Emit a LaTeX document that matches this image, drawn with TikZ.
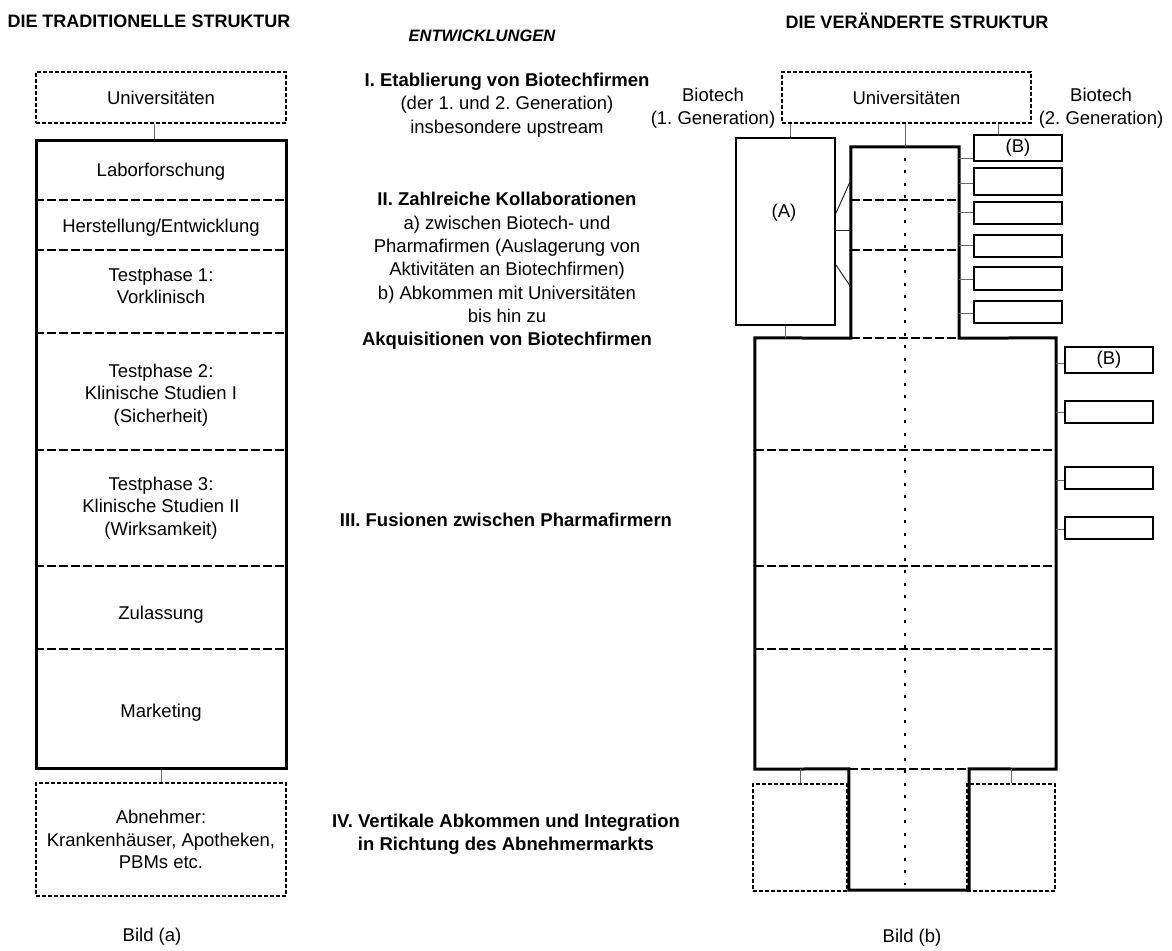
\documentclass[tikz,border=0pt]{standalone}
\usepackage{fontspec}
\setmainfont{Liberation Sans}
\frenchspacing
\begin{document}
\begin{tikzpicture}[x=1pt,y=-1pt,
	every node/.style={font=\fontsize{18.5}{22.5}\selectfont,align=center,inner sep=0pt},
	head/.style={font=\fontsize{18}{22}\selectfont\bfseries},
	dev/.style={font=\fontsize{18.5}{23.3}\selectfont},
	dbox/.style={draw,dash pattern=on 4pt off 2pt,line width=1.8pt},
	thickbox/.style={draw,line width=3pt},
	firm/.style={draw,line width=2pt,minimum width=88pt},
	divline/.style={line width=2.2pt,dash pattern=on 9pt off 3pt},
	dotline/.style={line width=2.8pt,dash pattern=on 2.8pt off 9.7pt},
	conn/.style={line width=1pt,black!60}]
	
	\useasboundingbox (0,0) rectangle (1172,950);
	
	\node[head] (titleA) at (149,21) {DIE TRADITIONELLE STRUKTUR};
	\node[font=\fontsize{16.5}{20}\selectfont\bfseries\itshape] (titleM) at (482,36) {ENTWICKLUNGEN};
	\node[head] (titleB) at (917,21) {DIE VERÄNDERTE STRUKTUR};
	
	% Bild (a)
	\node[dbox,minimum width=250pt,minimum height=51pt] (uniA) at (161,97.5) {Universitäten};
	\node[thickbox,minimum width=250pt,minimum height=628pt] (tradA) at (161,454) {};
	\foreach \y in {200,250,333,450,566,649}\draw[divline] (tradA.west |- 0,\y)--(tradA.east |- 0,\y);
	\node (lab) at (161,172) {Laborforschung};
	\node (herst) at (161,228) {Herstellung/Entwicklung};
	\node (phase1) at (161,286) {Testphase 1:\\Vorklinisch};
	\node (phase2) at (161,395) {Testphase 2:\\Klinische Studien I\\(Sicherheit)};
	\node (phase3) at (161,508) {Testphase 3:\\Klinische Studien II\\(Wirksamkeit)};
	\node (zul) at (161,615) {Zulassung};
	\node (mark) at (161,713) {Marketing};
	\node[dbox,minimum width=250pt,minimum height=113pt] (custA) at (161,839.5) {Abnehmer:\\Krankenhäuser, Apotheken,\\PBMs etc.};
	\draw[conn] ([xshift=-7pt]uniA.south)--([xshift=-7pt]tradA.north);
	\draw[conn] (tradA.south)--(custA.north);
	\node (bildA) at (152,937) {Bild (a)};
	
	% Entwicklungen
	\node[dev] (devI) at (507,105) {\textbf{I. Etablierung von Biotechfirmen}\\(der 1. und 2. Generation)\\insbesondere upstream};
	\node[dev] (devII) at (507,271) {\textbf{II. Zahlreiche Kollaborationen}\\a) zwischen Biotech- und\\Pharmafirmen (Auslagerung von\\Aktivitäten an Biotechfirmen)\\b) Abkommen mit Universitäten\\bis hin zu\\\textbf{Akquisitionen von Biotechfirmen}};
	\node[dev,font=\fontsize{18.5}{22.5}\selectfont\bfseries] (devIII) at (506,520) {III. Fusionen zwischen Pharmafirmern};
	\node[font=\fontsize{18.5}{22.5}\selectfont\bfseries] (devIV) at (506,834) {IV. Vertikale Abkommen und Integration\\in Richtung des Abnehmermarkts};
	
	% Bild (b)
	\node[dbox,minimum width=249pt,minimum height=51pt] (uniB) at (906.5,97.5) {Universitäten};
	\node (bio1) at (713,108) {Biotech\\(1. Generation)};
	\node (bio2) at (1101,108) {Biotech\\(2. Generation)};
	\node[draw,line width=2pt,minimum width=99pt,minimum height=187pt] (boxA) at (785.5,231.5) {};
	\node (labA) at (784,213) {(A)};
	
	\node[minimum width=108pt,minimum height=191pt] (coreT) at (905,242.5) {};
	\node[minimum width=301pt,minimum height=431pt] (pharma) at (905.5,553.5) {};
	\node[minimum width=120pt,minimum height=121pt] (coreB) at (909,829.5) {};
	\draw[thickbox] (pharma.north west)--(coreT.south west)--(coreT.north west)--(coreT.north east)--(coreT.south east)
		--(pharma.north east)--(pharma.south east)--(coreB.north east)--(coreB.south east)--(coreB.south west)
		--(coreB.north west)--(pharma.south west)--cycle;
	\draw[divline] (coreT.south west)--(coreT.south east);
	\draw[divline] (coreB.north west)--(coreB.north east);
	\foreach \y in {200,250}\draw[divline] (coreT.west |- 0,\y)--(coreT.east |- 0,\y);
	\foreach \y in {450,566,649}\draw[divline] (pharma.west |- 0,\y)--(pharma.east |- 0,\y);
	\draw[dotline] ([yshift=-11pt]coreT.north)--([yshift=5pt]coreT.north |- coreB.south);
	
	\draw[conn] (coreT.north |- uniB.south)--(coreT.north);
	\draw[conn] ([xshift=5pt]boxA.north |- uniB.south)--([xshift=5pt]boxA.north);
	\draw[conn] (boxA.south)--(boxA.south |- pharma.north);
	\foreach \ya/\yb in {213/180,230/230,265/287}\draw[conn,black!85] (boxA.east |- 0,\ya)--(coreT.west |- 0,\yb);
	
	\foreach \i/\yc/\h/\yl in {1/148/26/158,2/181.5/27/183,3/212.5/22/212,4/246/22/245,5/278.5/23/279,6/312/22/313}{
		\node[firm,minimum height=\h pt] (up\i) at (1018,\yc) {};
		\draw[conn] (coreT.east |- 0,\yl)--(up\i.west |- 0,\yl);
	}
	\node (labB1) at (up1.center) {(B)};
	\draw[conn] ([xshift=-20pt]up1.north |- uniB.south)--([xshift=-20pt]up1.north);
	
	\foreach \i/\yc/\h/\yl in {1/360/26/363,2/412/22/412,3/478/22/480,4/528/22/529}{
		\node[firm,minimum height=\h pt] (side\i) at (1109,\yc) {};
		\draw[conn] (pharma.east |- 0,\yl)--(side\i.west |- 0,\yl);
	}
	\node (labB2) at (side1.center) {(B)};
	
	\node[dbox,minimum width=94pt,minimum height=107pt] (custL) at (800,837.5) {};
	\node[dbox,minimum width=88pt,minimum height=107pt] (custR) at (1011,837.5) {};
	\draw[conn] (custL.north |- pharma.south)--(custL.north);
	\draw[conn] (custR.north |- pharma.south)--(custR.north);
	\node (bildB) at (912,938) {Bild (b)};
	
\end{tikzpicture}
\end{document}
